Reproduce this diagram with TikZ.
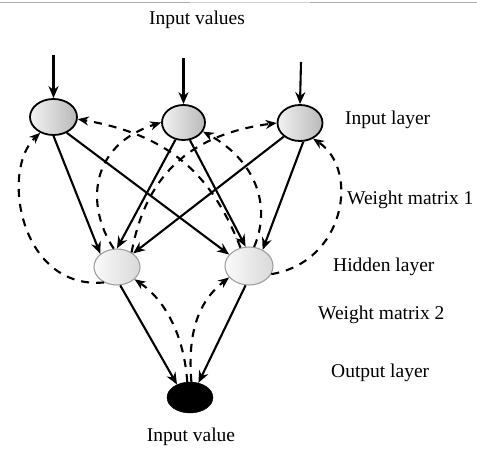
\documentclass[tikz,border=0pt]{standalone}
\usepackage{fontspec}
\setmainfont{Liberation Serif}
\usetikzlibrary{arrows.meta,shapes.geometric}
\begin{document}
\begin{tikzpicture}[x=1pt,y=-1pt,
  inode/.style={ellipse, draw=black, line width=1.8pt, left color=gray!10, right color=gray!55, inner sep=0pt},
  hnode/.style={ellipse, draw=gray!75, line width=1.1pt, left color=gray!4, right color=gray!30, inner sep=0pt},
  onode/.style={ellipse, draw=black, fill=black, inner sep=0pt},
  arr/.style={line width=2.1pt, -{Stealth[length=12pt,width=10pt]}},
  fb/.style={line width=2.1pt, dash pattern=on 8pt off 7pt, -{Stealth[length=11pt,width=9pt]}},
  lbl/.style={font=\fontsize{19.5pt}{22pt}\selectfont, inner sep=0pt},
  topline/.style={gray!65, line width=1.5pt}
]
\useasboundingbox (0,0) rectangle (477,452);
\draw[topline] (0,2.5) -- (190,2.5);
\draw[topline, gray!35, line width=0.7pt] (190,2.5) -- (310,2.5);
\draw[topline] (310,2.5) -- (477,2.5);

% nodes
\node[inode, minimum width=47pt, minimum height=36pt] (I1) at (53.5,117) {};
\node[inode, minimum width=43pt, minimum height=35pt] (I2) at (183.5,122.5) {};
\node[inode, minimum width=45pt, minimum height=36pt] (I3) at (300,123) {};
\node[hnode, minimum width=46pt, minimum height=36pt] (H1) at (117,267) {};
\node[hnode, minimum width=48pt, minimum height=38pt] (H2) at (249,266) {};
\node[onode, minimum width=46pt, minimum height=31pt] (O) at (190,397.5) {};

\coordinate (in1) at (53.5,55);
\coordinate (in2) at (183.5,58);
\coordinate (in3) at (301,62);

% labels
\node[lbl] (tin) at (197,20) {Input values};
\node[lbl, anchor=west] (til) at (345,120) {Input layer};
\node[lbl, anchor=west] (tw1) at (347,200) {Weight matrix 1};
\node[lbl, anchor=west] (thl) at (333,267) {Hidden layer};
\node[lbl, anchor=west] (tw2) at (318,315) {Weight matrix 2};
\node[lbl, anchor=west] (tol) at (331,373) {Output layer};
\node[lbl] (tiv) at (191,437) {Input value};

% solid connections
\draw[arr] (in1) -- (I1.north);
\draw[arr] (in2) -- (I2.north);
\draw[arr] (in3) -- (I3.north);
\draw[arr] (I1.south) -- (H1.north west);
\draw[arr] (I1.-50) -- (H2.150);
\draw[arr] (I2.-115) -- (H1.north);
\draw[arr] (I2.-70) -- (H2.100);
\draw[arr] (I3.-140) -- (H1.40);
\draw[arr] (I3.-80) -- (H2.50);
\draw[arr] (H1.-80) -- (O.135);
\draw[arr] (H2.-100) -- (O.60);

% dashed feedback connections
\draw[fb] (H1.-130) .. controls (20,290) and (0,170) .. (I1.-130);
\draw[fb] (H2.-20) .. controls (345,262) and (360,170) .. (I3.-50);
\draw[fb] (H1.100) .. controls (85,205) and (90,145) .. (I2.180);
\draw[fb] (H2.75) .. controls (272,205) and (255,160) .. (I2.-25);
\draw[fb] (H2.115) .. controls (212,175) and (170,135) .. (I1.-5);
\draw[fb] (H1.45) .. controls (145,180) and (185,135) .. (I3.180);
\draw[fb] (O.100) .. controls (184,335) and (165,300) .. (H1.-35);
\draw[fb] (O.85) .. controls (187,330) and (200,300) .. (H2.-150);
\end{tikzpicture}
\end{document}
